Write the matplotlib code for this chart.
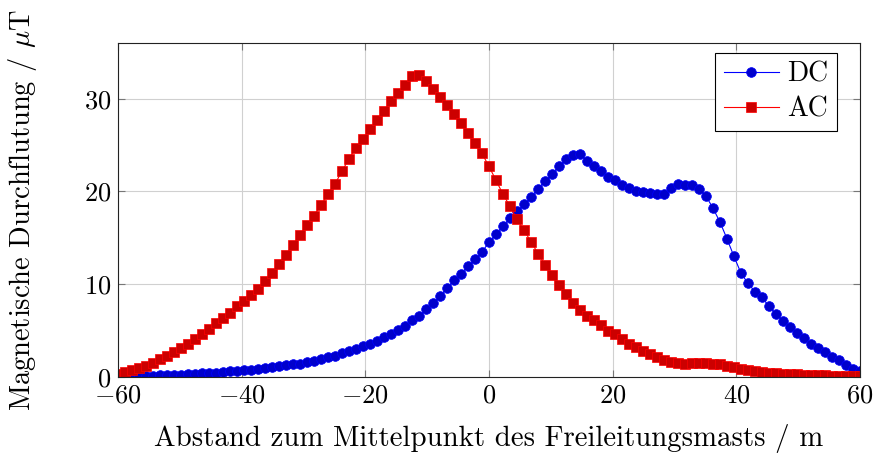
import numpy as np
import matplotlib
matplotlib.use("Agg")
import matplotlib.pyplot as plt

# Abstand zum Mast, 107 Messpunkte von -60 m bis 60 m
abstand = np.linspace(-60, 60, 107)

dc = [0.03, 0.04, 0.06, 0.08, 0.10, 0.13, 0.16, 0.19, 0.22, 0.26,
      0.30, 0.34, 0.38, 0.43, 0.48, 0.54, 0.60, 0.66, 0.73, 0.80,
      0.88, 0.95, 1.05, 1.15, 1.25, 1.35, 1.45, 1.60, 1.75, 1.90,
      2.10, 2.30, 2.55, 2.80, 3.05, 3.35, 3.60, 3.90, 4.30, 4.60,
      5.10, 5.50, 6.10, 6.60, 7.30, 8.00, 8.70, 9.60, 10.4, 11.1,
      12.0, 12.7, 13.5, 14.5, 15.4, 16.3, 17.1, 17.9, 18.6, 19.4,
      20.3, 21.1, 21.9, 22.7, 23.5, 23.9, 24.0, 23.3, 22.7, 22.2,
      21.6, 21.2, 20.7, 20.4, 20.1, 19.9, 19.8, 19.7, 19.7, 20.4,
      20.8, 20.7, 20.7, 20.3, 19.5, 18.2, 16.7, 14.9, 13.0, 11.2,
      10.1, 9.2, 8.6, 7.6, 6.8, 6.0, 5.35, 4.7, 4.2, 3.6,
      3.1, 2.7, 2.2, 1.8, 1.3, 0.9, 0.6]

ac = [0.30, 0.50, 0.70, 0.95, 1.23, 1.55, 1.95, 2.30, 2.70, 3.10,
      3.60, 4.10, 4.60, 5.20, 5.80, 6.35, 6.95, 7.60, 8.20, 8.80,
      9.50, 10.3, 11.2, 12.2, 13.2, 14.2, 15.3, 16.4, 17.4, 18.5,
      19.7, 20.8, 22.2, 23.5, 24.7, 25.6, 26.7, 27.7, 28.7, 29.7,
      30.6, 31.5, 32.4, 32.6, 31.9, 31.0, 30.2, 29.3, 28.3, 27.4,
      26.3, 25.2, 24.1, 22.7, 21.2, 19.7, 18.4, 17.0, 15.8, 14.6,
      13.3, 12.1, 11.0, 9.9, 8.9, 8.0, 7.2, 6.6, 6.1, 5.6,
      5.0, 4.6, 4.1, 3.6, 3.2, 2.85, 2.5, 2.1, 1.8, 1.6,
      1.5, 1.45, 1.5, 1.55, 1.5, 1.45, 1.35, 1.2, 1.05, 0.85,
      0.70, 0.60, 0.50, 0.45, 0.40, 0.32, 0.30, 0.27, 0.23, 0.20,
      0.20, 0.17, 0.15, 0.15, 0.13, 0.12, 0.10]

xticks = [-60, -40, -20, 0, 20, 40, 60]
yticks = [0, 10, 20, 30]

plt.rcParams['font.family'] = ['cmr10', 'DejaVu Serif']
plt.rcParams['mathtext.fontset'] = 'cm'
plt.rcParams['axes.formatter.use_mathtext'] = True

fig = plt.figure(figsize=(8.76, 4.58), dpi=100)
ax = fig.add_axes([0.1347, 0.1769, 0.8470, 0.7292])

ax.plot(abstand, dc, color='#0000ff', linewidth=0.8, marker='o', markersize=7,
        markerfacecolor='#0000cc', markeredgecolor='#0000ff', markeredgewidth=0.5,
        label='DC')
ax.plot(abstand, ac, color='#ff0000', linewidth=0.8, marker='s', markersize=6.5,
        markerfacecolor='#cc0000', markeredgecolor='#ff0000', markeredgewidth=0.5,
        label='AC')

ax.set_xlim(-60, 60)
ax.set_ylim(0, 36)
ax.set_xticks(xticks)
ax.set_yticks(yticks)
ax.grid(True, color='#d0d0d0', linewidth=0.8)
ax.set_axisbelow(True)
ax.tick_params(direction='in', length=5, width=0.8, color='#777777',
               top=True, right=True, labelsize=19, pad=5)
for s in ax.spines.values():
    s.set_linewidth(0.8)
    s.set_color('#222222')

ax.set_xlabel('Abstand zum Mittelpunkt des Freileitungsmasts / m', fontsize=20.8, labelpad=12)
ax.set_ylabel(r'Magnetische Durchflutung / $\mu$T', fontsize=20.5, labelpad=32)

leg = ax.legend(loc='upper right', bbox_to_anchor=(0.969, 0.97), fontsize=20,
                fancybox=False, framealpha=1, edgecolor='black', borderpad=0.3,
                handlelength=2.0, handletextpad=0.3, labelspacing=0.3,
                borderaxespad=0)
leg.get_frame().set_linewidth(0.8)

fig.savefig('out.png', dpi=100)
